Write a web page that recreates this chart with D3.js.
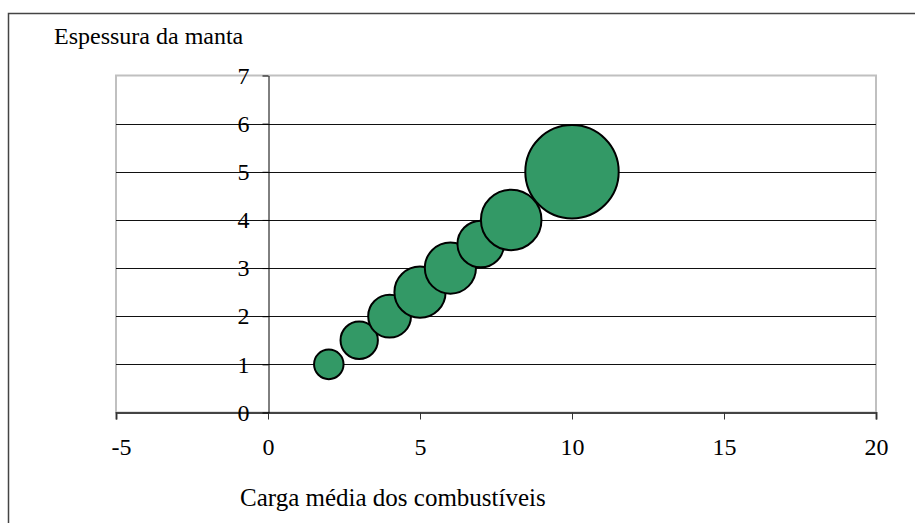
<!DOCTYPE html>
<html>
<head>
<meta charset="utf-8">
<script src="https://cdn.jsdelivr.net/npm/d3@7.9.0/dist/d3.min.js"></script>
<style>
  html, body { margin: 0; padding: 0; background: #fff; }
  svg { display: block; }
  text { font-family: "Liberation Serif", "Times New Roman", serif; fill: #000; }
</style>
</head>
<body>
<svg id="chart" width="915" height="523"></svg>
<script>
// ---- data ----
const cargaMedia = [2, 3, 4, 5, 6, 7, 8, 10];          // x
const espessura = [1, 1.5, 2, 2.5, 3, 3.5, 4, 5];        // y
const bubbleSize = [1, 1.6, 2.1, 3, 3, 2.5, 4.2, 10];    // bubble size
const xTicks = [-5, 0, 5, 10, 15, 20];
const yTicks = [0, 1, 2, 3, 4, 5, 6, 7];
const yTitle = "Espessura da manta";
const xTitle = "Carga média dos combustíveis";

const points = cargaMedia.map((x, i) => ({ x, y: espessura[i], s: bubbleSize[i] }));

const svg = d3.select("#chart");

// outer frame (right and bottom edges fall outside the picture)
svg.append("rect")
  .attr("x", 8.5).attr("y", 13.5)
  .attr("width", 1000).attr("height", 1000)
  .attr("fill", "none").attr("stroke", "#444").attr("stroke-width", 1.5);

// ---- scales ----
const x = d3.scaleLinear().domain([-5, 20]).range([116, 876]);
const y = d3.scaleLinear().domain([0, 7]).range([412.5, 75.5]);
const r = d3.scaleSqrt().domain([0, 10]).range([0, 46.7]);

// plot area border
svg.append("rect")
  .attr("x", x(-5)).attr("y", y(7))
  .attr("width", x(20) - x(-5)).attr("height", y(0) - y(7))
  .attr("fill", "none").attr("stroke", "#c0c0c0").attr("stroke-width", 2);

// gridlines
svg.append("g")
  .selectAll("line")
  .data(yTicks.filter((d) => d > 0 && d < 7))
  .join("line")
  .attr("x1", x(-5)).attr("x2", x(20))
  .attr("y1", (d) => Math.round(y(d)) + 0.5).attr("y2", (d) => Math.round(y(d)) + 0.5)
  .attr("stroke", "#111").attr("stroke-width", 1);

// x axis at y = 0
const xAxis = svg.append("g")
  .attr("transform", `translate(0,${y(0)})`)
  .call(d3.axisBottom(x).tickValues(xTicks).tickSize(7).tickPadding(18).tickFormat((d) => String(d)));
xAxis.select(".domain").attr("stroke", "#444").attr("stroke-width", 2);
xAxis.selectAll(".tick line").attr("stroke", "#333");
xAxis.selectAll("text").attr("font-size", 24).attr("font-family", "Liberation Serif").attr("fill", "#000")
  .attr("dx", (d) => (d < 0 ? 5 : 0));

// y axis at x = 0
const yAxis = svg.append("g")
  .attr("transform", `translate(${Math.round(x(0)) + 0.5},0)`)
  .call(d3.axisLeft(y).tickValues(yTicks).tickSize(6).tickSizeOuter(0).tickPadding(13).tickFormat((d) => String(d)));
yAxis.select(".domain").attr("stroke", "#000").attr("stroke-width", 1);
yAxis.selectAll(".tick line").attr("stroke", "#000");
yAxis.selectAll("text").attr("font-size", 24).attr("font-family", "Liberation Serif").attr("fill", "#000");

// bubbles
svg.append("g")
  .selectAll("circle")
  .data(points)
  .join("circle")
  .attr("cx", (d) => x(d.x))
  .attr("cy", (d) => y(d.y))
  .attr("r", (d) => r(d.s))
  .attr("fill", "#339966")
  .attr("stroke", "#000")
  .attr("stroke-width", 2);

// titles
svg.append("text")
  .attr("x", 54).attr("y", 44)
  .attr("font-size", 24)
  .text(yTitle);

svg.append("text")
  .attr("x", 240).attr("y", 506)
  .attr("font-size", 25)
  .text(xTitle);
</script>
</body>
</html>
